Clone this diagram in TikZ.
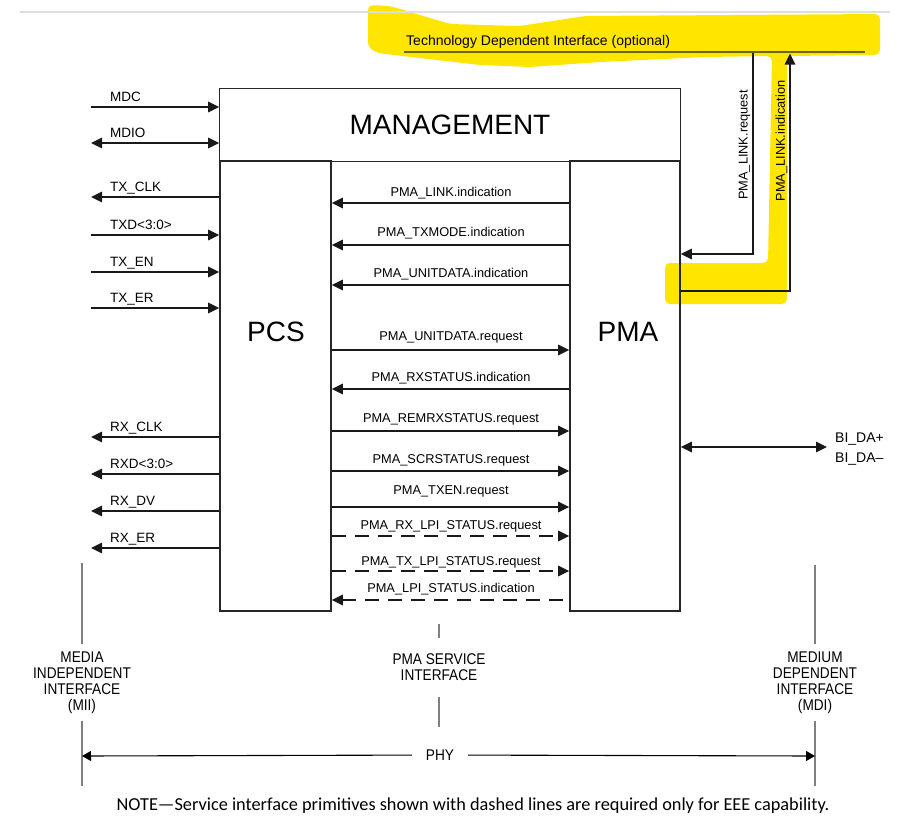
\documentclass[tikz,border=0pt]{standalone}
\usepackage{fontspec}
\setmainfont{Liberation Sans}
\newfontfamily\narrowfont[FakeStretch=0.88]{Liberation Sans}
\newfontfamily\notefont{Carlito}
\usetikzlibrary{arrows.meta,positioning}

\definecolor{hilite}{RGB}{255,230,0}
\definecolor{tdiline}{RGB}{110,102,0}
\definecolor{rulegray}{RGB}{222,222,222}
\definecolor{ifgray}{RGB}{128,128,128}

\tikzset{
  blk/.style={draw=black!85, line width=1.6pt, inner sep=0pt},
  big/.style={font=\fontsize{28}{30}\selectfont, inner sep=0pt},
  sig/.style={line width=1.4pt, draw=black!90},
  thinsig/.style={line width=1.1pt, draw=black!90},
  prd/.style={dash pattern=on 14pt off 9pt},
  signame/.style={font=\fontsize{13.5}{15}\selectfont, inner sep=0pt, anchor=base west},
  prim/.style={font=\fontsize{12.8}{15}\selectfont, inner sep=0pt, anchor=base},
  ifline/.style={line width=1.5pt, draw=ifgray},
  iflabel/.style={font=\narrowfont\fontsize{15.5}{16}\selectfont, align=center, inner sep=0pt},
  phyarr/.style={line width=1.1pt, -{Triangle[length=9pt,width=10pt]}},
  >={Triangle[length=11pt,width=10.5pt]}
}

\begin{document}
\begin{tikzpicture}[x=1pt,y=-1pt]
  \useasboundingbox (0,0) rectangle (899,819);
  % highlighter marks
  \fill[hilite, rounded corners=5pt] (368,5) -- (390,6) -- (450,24) -- (520,26) -- (585,16)
    -- (880,14) -- (880,55) -- (787,56) -- (787,304) -- (665,304) -- (665,263) -- (768,263)
    -- (772,56) -- (705,57) -- (600,62) -- (530,67) -- (480,65) -- (377,53) -- (368,47) -- cycle;
  \draw[rulegray, line width=1.5pt] (20,12) -- (890,12);

  % blocks
  \node[blk, big, minimum width=461pt, minimum height=73pt] (mgmt) at (450,125) {MANAGEMENT};
  \node[blk, minimum width=111pt, minimum height=450pt] (pcs) at (275.5,386) {};
  \node[blk, minimum width=110pt, minimum height=450pt] (pma) at (625,386) {};
  \node[big] (pcstext) at (276,331.5) {PCS};
  \node[big] (pmatext) at (628,332) {PMA};

  % MII signals
  \foreach \sname/\yy/\dir [count=\i] in {MDC/107/->, MDIO/143/<->, TX\_CLK/197/<-,
      TXD<3:0>/235/->, TX\_EN/272/->, TX\_ER/308/->, RX\_CLK/437/<-, RXD<3:0>/474/<-,
      RX\_DV/511/<-, RX\_ER/548/<-}
  {
    \coordinate (mii\i) at (91,\yy);
    \draw[sig,\dir] (mii\i) -- (mii\i -| pcs.west);
    \node[signame] (sig\i) at (110,\yy-6) {\sname};
  }

  % PMA service primitives
  \foreach \pname/\yy/\ly/\dir/\pat [count=\i] in {
      PMA\_LINK.indication/203/192/<-/solid,
      PMA\_TXMODE.indication/245/232/<-/solid,
      PMA\_UNITDATA.indication/285/273/<-/solid,
      PMA\_UNITDATA.request/350/336/->/solid,
      PMA\_RXSTATUS.indication/389/377/<-/solid,
      PMA\_REMRXSTATUS.request/431/418/->/solid,
      PMA\_SCRSTATUS.request/471/459/->/solid,
      PMA\_TXEN.request/507/490/->/solid,
      PMA\_RX\_LPI\_STATUS.request/536/525/->/prd,
      PMA\_TX\_LPI\_STATUS.request/571/561/->/prd,
      PMA\_LPI\_STATUS.indication/600/588/<-/prd}
  {
    \coordinate (ps\i) at (451,\yy);
    \draw[sig,\dir,\pat] (ps\i -| pcs.east) -- (ps\i -| pma.west);
    \node[prim] (prim\i) at (451,\ly+4.5) {\pname};
  }

  % technology dependent interface
  \node[font=\fontsize{14}{16}\selectfont, inner sep=0pt, anchor=base west] (tdi) at (406,45.5)
    {Technology Dependent Interface (optional)};
  \coordinate (tdiL) at (404,52);
  \coordinate (tdiR) at (865,52);
  \draw[tdiline, line width=2.5pt] (tdiL) -- (tdiR);
  \coordinate (reqtop) at (753,53);
  \coordinate (reqend) at (pma.east |- 0,254);
  \draw[thinsig,->] (reqtop) |- (reqend);
  \coordinate (indstart) at (pma.east |- 0,291);
  \coordinate (indtop) at (790,53.5);
  \draw[thinsig,->] (indstart) -| (indtop);
  \node[prim, anchor=center, rotate=90] (linkreq) at (744.5,145) {PMA\_LINK.request};
  \node[prim, anchor=center, rotate=90] (linkind) at (781.5,141) {PMA\_LINK.indication};

  % MDI signal
  \coordinate (mdi) at (827,447);
  \draw[sig,<->] (pma.east |- mdi) -- (mdi);
  \node[font=\fontsize{14}{20}\selectfont, align=left, inner sep=0pt, anchor=west] (bida)
    at (835,449.5) {BI\_DA+\\BI\_DA–};

  % interfaces
  \node[iflabel] (miitext) at (82,683) {MEDIA\\INDEPENDENT\\INTERFACE\\(MII)};
  \node[iflabel] (psitext) at (439,667) {PMA SERVICE\\INTERFACE};
  \node[iflabel] (mditext) at (815,683) {MEDIUM\\DEPENDENT\\INTERFACE\\(MDI)};
  \draw[ifline] (82,563) -- (82,644);
  \draw[ifline] (82,721) -- (82,786);
  \draw[ifline] (439,624) -- (439,638);
  \draw[ifline] (439,697) -- (439,727);
  \draw[ifline] (815,565) -- (815,644);
  \draw[ifline] (815,721) -- (815,786);

  % PHY span
  \node[iflabel, inner xsep=14pt] (phy) at (440,755) {PHY};
  \coordinate (phyL) at (82,756);
  \coordinate (phyR) at (815,756);
  \draw[phyarr] (phy) -- (phyL);
  \draw[phyarr] (phy) -- (phyR);

  \node[font=\notefont\fontsize{18.3}{20}\selectfont, inner sep=0pt] (note) at (473,806)
    {NOTE—Service interface primitives shown with dashed lines are required only for EEE capability.};
\end{tikzpicture}
\end{document}
